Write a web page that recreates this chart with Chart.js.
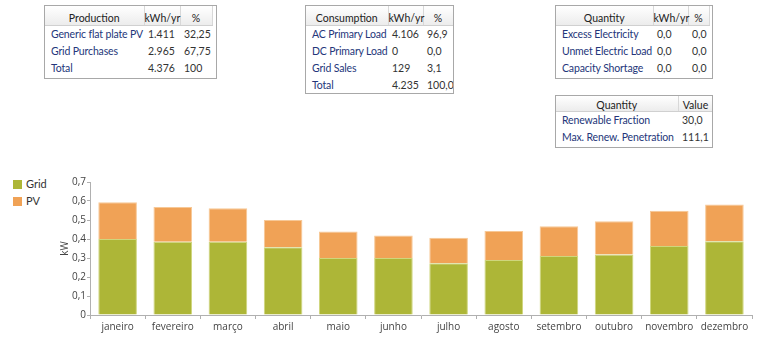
<!DOCTYPE html>
<html>
<head>
<meta charset="utf-8">
<script src="https://cdn.jsdelivr.net/npm/chart.js@4"></script>
<style>
  body { margin: 0; width: 768px; height: 349px; background: #fff; position: relative; overflow: hidden;
         font-family: Lato, "Open Sans", sans-serif; font-size: 10.5px; }
  .tab { position: absolute; border: 1px solid #a8a8a8; background: #fff; box-sizing: border-box; overflow: hidden; }
  .tab table { border-collapse: collapse; table-layout: fixed; }
  .tab th { font-weight: normal; color: #222; height: 14px; line-height: 14px; padding: 5px 0 0 0; text-align: center;
            background: linear-gradient(#ffffff, #ececec); border-right: 1px solid #d8d8d8; border-bottom: 1px solid #d0d0d0; }
  .tab.curta th { height: 11px; line-height: 11px; padding-top: 4px; }
  .tab td { height: 17px; line-height: 17px; padding: 0 0 0 4px; color: #333; white-space: nowrap; overflow: hidden; }
  .tab td.lbl { color: #24367a; padding-left: 6px; letter-spacing: -0.15px; }
  #legenda { position: absolute; left: 13px; top: 177px; font-size: 11px; color: #333; }
  #legenda div { height: 17px; line-height: 13px; }
  #legenda span { display: inline-block; width: 9px; height: 9px; margin-right: 4px; vertical-align: -1px; }
  #grafico { position: absolute; left: 40px; top: 175px; width: 722px; height: 160px; }
</style>
</head>
<body>

<div id="tabelas"></div>

<div id="legenda">
  <div><span style="background:#adb637"></span>Grid</div>
  <div><span style="background:#f0a256"></span>PV</div>
</div>

<div id="grafico"><canvas id="graficoEnergia"></canvas></div>

<script>
// Meses e produção média mensal (kW)
const meses = ['janeiro', 'fevereiro', 'março', 'abril', 'maio', 'junho',
               'julho', 'agosto', 'setembro', 'outubro', 'novembro', 'dezembro'];
const gridKW = [0.400, 0.386, 0.386, 0.357, 0.300, 0.300, 0.273, 0.289, 0.311, 0.318, 0.363, 0.388];
const pvKW   = [0.193, 0.182, 0.176, 0.143, 0.140, 0.118, 0.133, 0.153, 0.156, 0.176, 0.186, 0.194];
const rotulosY = ['0', '0,1', '0,2', '0,3', '0,4', '0,5', '0,6', '0,7'];

// Tabelas de resumo
const producaoCab = ['Production', 'kWh/yr', '%'];
const producaoLinhas = [['Generic flat plate PV', '1.411', '32,25'],
                        ['Grid Purchases', '2.965', '67,75'],
                        ['Total', '4.376', '100']];
const consumoCab = ['Consumption', 'kWh/yr', '%'];
const consumoLinhas = [['AC Primary Load', '4.106', '96,9'],
                       ['DC Primary Load', '0', '0,0'],
                       ['Grid Sales', '129', '3,1'],
                       ['Total', '4.235', '100,0']];
const excessoCab = ['Quantity', 'kWh/yr', '%'];
const excessoLinhas = [['Excess Electricity', '0,0', '0,0'],
                       ['Unmet Electric Load', '0,0', '0,0'],
                       ['Capacity Shortage', '0,0', '0,0']];
const renovCab = ['Quantity', 'Value'];
const renovLinhas = [['Renewable Fraction', '30,0'],
                     ['Max. Renew. Penetration', '111,1']];

function montarTabela(x, y, largura, altura, colunas, cab, linhas, classe) {
    var div = document.createElement('div');
    div.className = 'tab' + (classe ? ' ' + classe : '');
    div.style.left = x + 'px';
    div.style.top = y + 'px';
    div.style.width = largura + 'px';
    div.style.height = altura + 'px';
    var total = colunas.reduce(function (a, b) { return a + b; }, 0);
    var html = '<table style="width:' + total + 'px"><colgroup>';
    colunas.forEach(function (c) { html += '<col style="width:' + c + 'px">'; });
    html += '</colgroup><tr>';
    cab.forEach(function (c) { html += '<th>' + c + '</th>'; });
    html += '</tr>';
    linhas.forEach(function (l) {
        html += '<tr>';
        l.forEach(function (v, i) { html += '<td' + (i === 0 ? ' class="lbl"' : '') + '>' + v + '</td>'; });
        html += '</tr>';
    });
    html += '</table>';
    div.innerHTML = html;
    document.getElementById('tabelas').appendChild(div);
}

montarTabela(44, 5, 173, 74, [99, 36, 32], producaoCab, producaoLinhas);
montarTabela(305, 5, 149, 89, [82, 35, 30], consumoCab, consumoLinhas);
montarTabela(555, 5, 158, 74, [97, 35, 21], excessoCab, excessoLinhas);
montarTabela(555, 95, 158, 53, [122, 35], renovCab, renovLinhas, 'curta');

// Gráfico de barras empilhadas
var ctx = document.getElementById('graficoEnergia').getContext('2d');
var graficoEnergia = new Chart(ctx, {
    type: 'bar',
    data: {
        labels: meses,
        datasets: [{
            label: 'Grid',
            data: gridKW,
            backgroundColor: '#adb637',
            borderColor: '#cfd67c',
            borderWidth: 1,
            barPercentage: 0.7,
            categoryPercentage: 1
        }, {
            label: 'PV',
            data: pvKW,
            backgroundColor: '#f0a256',
            borderColor: '#f7c896',
            borderWidth: 1,
            barPercentage: 0.7,
            categoryPercentage: 1
        }]
    },
    options: {
        responsive: true,
        maintainAspectRatio: false,
        animation: false,
        layout: { padding: { left: 17, right: 10, top: 6, bottom: 0 } },
        plugins: { legend: { display: false }, tooltip: { enabled: false } },
        scales: {
            x: {
                stacked: true,
                border: { color: '#b0b0b0' },
                grid: { display: true, drawOnChartArea: false, tickLength: 4, color: '#b0b0b0' },
                ticks: { color: '#444', font: { family: 'Open Sans', size: 10 }, padding: 2, maxRotation: 0 }
            },
            y: {
                stacked: true,
                min: 0,
                max: 0.7,
                border: { color: '#b0b0b0' },
                grid: { display: true, drawOnChartArea: false, tickLength: 3, color: '#b0b0b0' },
                ticks: {
                    stepSize: 0.1,
                    color: '#444',
                    font: { family: 'Open Sans', size: 10 },
                    padding: 1,
                    callback: function (v, i) { return rotulosY[i]; }
                },
                title: { display: true, text: 'kW', color: '#444', font: { family: 'Open Sans', size: 10 },
                         padding: { top: 2, bottom: 0 } }
            }
        }
    }
});
</script>
</body>
</html>
